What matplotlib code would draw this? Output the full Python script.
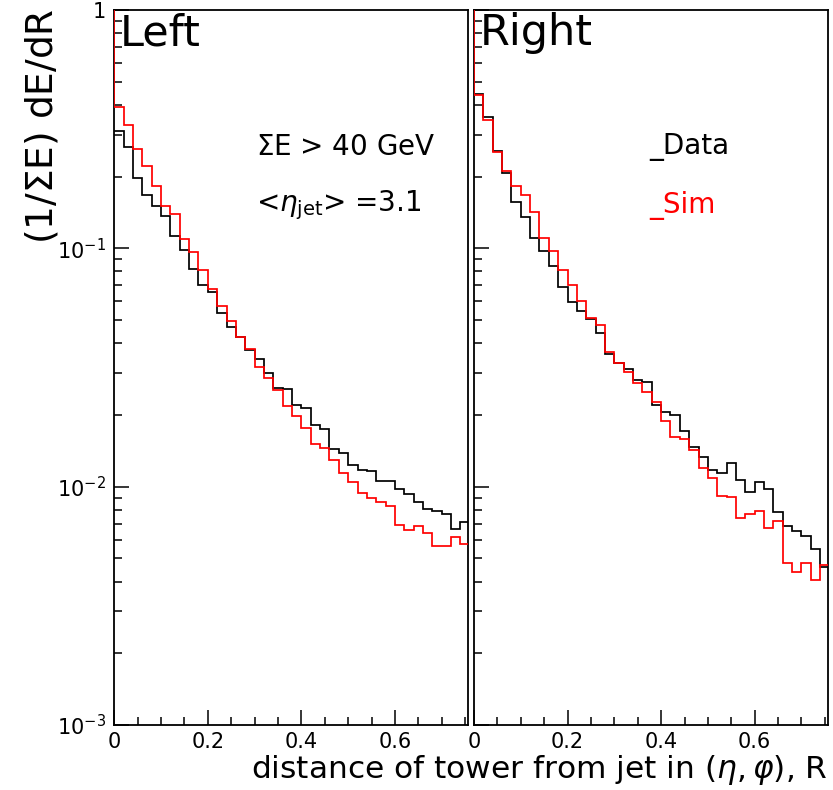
import numpy as np
import matplotlib
matplotlib.use("Agg")
import matplotlib.pyplot as plt
from matplotlib.ticker import FixedLocator, FixedFormatter, MultipleLocator, NullFormatter

# ---------------- data ----------------
bin_width = 0.02
n_bins = 38
underflow_sim = 2.0   # value of the bin just below R=0 (off scale, gives the vertical red line at R=0)

left_data = [0.31, 0.267, 0.197, 0.168, 0.151, 0.137, 0.113, 0.0984, 0.0819, 0.0701,
             0.0654, 0.0537, 0.0469, 0.0423, 0.0374, 0.0343, 0.0301, 0.0260, 0.0256, 0.0220,
             0.0213, 0.0181, 0.0174, 0.01435, 0.0139, 0.0123, 0.0117, 0.0116, 0.01055, 0.01055,
             0.00975, 0.0093, 0.0086, 0.00805, 0.0079, 0.00765, 0.00662, 0.00713]
left_sim = [0.39, 0.329, 0.261, 0.222, 0.183, 0.150, 0.140, 0.109, 0.0968, 0.0811,
            0.0675, 0.0574, 0.0495, 0.0423, 0.0378, 0.0317, 0.0286, 0.0254, 0.0219, 0.0197,
            0.0177, 0.0151, 0.0145, 0.01294, 0.01144, 0.01042, 0.00937, 0.00893, 0.00865, 0.0083,
            0.0069, 0.00658, 0.00684, 0.00637, 0.00564, 0.00564, 0.00616, 0.00574]
right_data = [0.445, 0.357, 0.255, 0.207, 0.157, 0.136, 0.110, 0.0977, 0.0843, 0.0686,
              0.0593, 0.0545, 0.0503, 0.0440, 0.0362, 0.0329, 0.0311, 0.0280, 0.0276, 0.0220,
              0.0206, 0.0200, 0.0172, 0.0146, 0.01335, 0.01175, 0.01144, 0.01259, 0.01066, 0.00946,
              0.0105, 0.00975, 0.0078, 0.00684, 0.0065, 0.0062, 0.0055, 0.00461]
right_sim = [0.44, 0.345, 0.253, 0.211, 0.183, 0.167, 0.1425, 0.111, 0.0975, 0.0811,
             0.0701, 0.0603, 0.0508, 0.0477, 0.0368, 0.0331, 0.0303, 0.0271, 0.0250, 0.0226,
             0.0189, 0.0161, 0.0158, 0.01425, 0.01194, 0.01083, 0.00916, 0.00902, 0.00736, 0.00765,
             0.0079, 0.00673, 0.0072, 0.00476, 0.0044, 0.00476, 0.00405, 0.00468]

panel_names = ["Left", "Right"]
x_ticks = [0, 0.2, 0.4, 0.6]
x_tick_labels = ["0", "0.2", "0.4", "0.6"]
y_ticks = [1e-3, 1e-2, 1e-1, 1]
y_tick_labels = [r"10$^{-3}$", r"10$^{-2}$", r"10$^{-1}$", "1"]
legend_labels = ["Data", "Sim"]
cut_text = r"$\Sigma$E > 40 GeV"
eta_text = r"<$\eta_{\mathrm{jet}}$> =3.1"
x_label = r"distance of tower from jet in $(\eta,\varphi)$, R"
y_label = r"(1/$\Sigma$E) dE/dR"

# ---------------- figure ----------------
plt.rcParams['font.family'] = ['DejaVu Sans']
plt.rcParams['mathtext.fontset'] = 'dejavusans'

fig = plt.figure(figsize=(8.33, 7.9), dpi=100)
axL = fig.add_axes([0.1372, 0.0823, 0.4246, 0.905])
axR = fig.add_axes([0.5690, 0.0823, 0.4246, 0.905])

edges = np.arange(n_bins + 1) * bin_width
edges_u = np.concatenate([[-bin_width], edges])

for ax, name, dat, sim in [(axL, panel_names[0], left_data, left_sim),
                           (axR, panel_names[1], right_data, right_sim)]:
    ax.stairs(dat, edges, baseline=None, color="black", lw=1.25, zorder=3)
    ax.stairs(np.concatenate([[underflow_sim], sim]), edges_u, baseline=None,
              color="#ff0000", lw=1.25, zorder=3.1)
    ax.set_yscale("log")
    ax.set_ylim(1e-3, 1)
    ax.set_xlim(0, 0.756)
    for s in ax.spines.values():
        s.set_linewidth(1.3)
    ax.xaxis.set_major_locator(FixedLocator(x_ticks))
    ax.xaxis.set_minor_locator(MultipleLocator(0.05))
    ax.yaxis.set_major_locator(FixedLocator(y_ticks))
    ax.yaxis.set_minor_locator(FixedLocator(
        [m * 10.0 ** e for e in (-3, -2, -1) for m in range(2, 10)]))
    ax.yaxis.set_minor_formatter(NullFormatter())
    ax.tick_params(axis="both", which="both", direction="in", top=False, right=False)
    ax.tick_params(axis="x", which="major", length=11, width=1.1, labelsize=15, pad=5)
    ax.tick_params(axis="x", which="minor", length=5.5, width=1.1)
    ax.tick_params(axis="y", which="major", length=11, width=1.1, labelsize=15, pad=6)
    ax.tick_params(axis="y", which="minor", length=5.5, width=1.1)
    ax.xaxis.set_major_formatter(FixedFormatter(x_tick_labels))
    ax.text(0.015, 0.997, name, transform=ax.transAxes, ha="left", va="top",
            fontsize=31)

axL.yaxis.set_major_formatter(FixedFormatter(y_tick_labels))
axR.yaxis.set_major_formatter(NullFormatter())

axL.text(0.40, 0.808, cut_text, transform=axL.transAxes, ha="left", va="center", fontsize=20)
axL.text(0.40, 0.727, eta_text, transform=axL.transAxes, ha="left", va="center", fontsize=20)

axR.text(0.495, 0.808, "_" + legend_labels[0], transform=axR.transAxes, ha="left",
         va="center", fontsize=20, color="black")
axR.text(0.495, 0.727, "_" + legend_labels[1], transform=axR.transAxes, ha="left",
         va="center", fontsize=20, color="#ff0000")

fig.text(828 / 833, 1 - 770 / 790, x_label, ha="right", va="center", fontsize=22.5)
fig.text(42 / 833, 1 - 8 / 790, y_label, ha="center", va="top", rotation=90, fontsize=27)

fig.savefig("out.png", dpi=100)
